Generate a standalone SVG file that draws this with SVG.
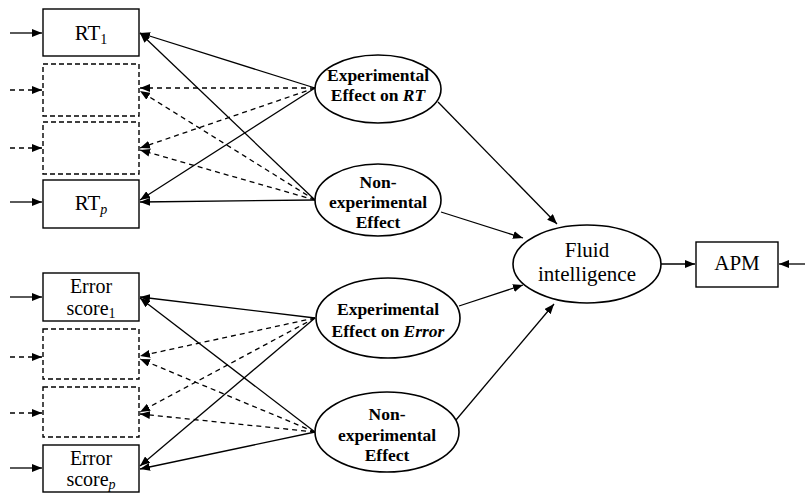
<svg xmlns="http://www.w3.org/2000/svg" width="805" height="494" viewBox="0 0 805 494">
<defs>
<marker id="ah" viewBox="0 0 10 8" refX="10" refY="4" markerWidth="10" markerHeight="8" markerUnits="userSpaceOnUse" orient="auto">
<path d="M0,0 L10,4 L0,8 z" fill="#000"/>
</marker>
</defs>
<style>
.box{fill:#fff;stroke:#000;stroke-width:1.4}
.dbox{fill:#fff;stroke:#000;stroke-width:1.4;stroke-dasharray:5,3}
.ell{fill:#fff;stroke:#000;stroke-width:1.6}
.ln{stroke:#000;stroke-width:1.3;fill:none;marker-end:url(#ah)}
.dl{stroke:#000;stroke-width:1.3;fill:none;stroke-dasharray:5,4;marker-end:url(#ah)}
.t{font-family:"Liberation Serif",serif;font-size:21px;text-anchor:middle;fill:#000}
.t2{font-family:"Liberation Serif",serif;font-size:20px;text-anchor:middle;fill:#000}
.b{font-family:"Liberation Serif",serif;font-size:17.5px;font-weight:bold;text-anchor:middle;fill:#000}
.sub{font-size:14px}
</style>
<g id="connectors">
<line class="ln" x1="10" y1="33" x2="42" y2="33"/>
<line class="dl" x1="10" y1="90" x2="42" y2="90"/>
<line class="dl" x1="10" y1="148" x2="42" y2="148"/>
<line class="ln" x1="10" y1="202" x2="42" y2="202"/>
<line class="ln" x1="10" y1="297" x2="42" y2="297"/>
<line class="dl" x1="10" y1="357" x2="42" y2="357"/>
<line class="dl" x1="10" y1="413" x2="42" y2="413"/>
<line class="ln" x1="10" y1="468" x2="42" y2="468"/>
<line class="ln" x1="315" y1="88" x2="140" y2="33"/>
<line class="dl" x1="315" y1="88" x2="140" y2="88"/>
<line class="dl" x1="315" y1="88" x2="140" y2="148"/>
<line class="ln" x1="315" y1="88" x2="140" y2="200"/>
<line class="ln" x1="315" y1="200" x2="140" y2="33"/>
<line class="dl" x1="315" y1="200" x2="140" y2="91"/>
<line class="dl" x1="315" y1="200" x2="140" y2="150"/>
<line class="ln" x1="315" y1="200" x2="140" y2="202"/>
<line class="ln" x1="315" y1="318" x2="140" y2="297"/>
<line class="dl" x1="315" y1="318" x2="140" y2="356"/>
<line class="dl" x1="315" y1="318" x2="140" y2="412"/>
<line class="ln" x1="315" y1="318" x2="140" y2="466"/>
<line class="ln" x1="315" y1="432" x2="140" y2="298"/>
<line class="dl" x1="315" y1="432" x2="140" y2="359"/>
<line class="dl" x1="315" y1="432" x2="140" y2="414"/>
<line class="ln" x1="315" y1="432" x2="140" y2="469"/>
<line class="ln" x1="438" y1="102" x2="557" y2="224"/>
<line class="ln" x1="441" y1="212" x2="523" y2="238"/>
<line class="ln" x1="459" y1="306" x2="523" y2="285"/>
<line class="ln" x1="456" y1="420" x2="554" y2="304"/>
<line class="ln" x1="661" y1="264" x2="695" y2="264"/>
<line class="ln" x1="805" y1="264" x2="779" y2="264"/>
</g>
<g id="rt1"><rect class="box" x="43" y="9" width="96" height="47"/><text class="t" x="91" y="40">RT<tspan class="sub" dy="4">1</tspan></text></g>
<g id="rt2"><rect class="dbox" x="43" y="64" width="96" height="52"/></g>
<g id="rt3"><rect class="dbox" x="43" y="122" width="96" height="52"/></g>
<g id="rtp"><rect class="box" x="43" y="180" width="96" height="48"/><text class="t" x="91" y="210">RT<tspan class="sub" dy="4" font-style="italic" font-size="18">p</tspan></text></g>
<g id="es1"><rect class="box" x="43" y="273" width="96" height="48"/><text class="t2" x="91" y="293">Error</text><text class="t2" x="91" y="315">score<tspan class="sub" dy="3">1</tspan></text></g>
<g id="es2"><rect class="dbox" x="43" y="329" width="96" height="50"/></g>
<g id="es3"><rect class="dbox" x="43" y="387" width="96" height="50"/></g>
<g id="esp"><rect class="box" x="43" y="445" width="96" height="47"/><text class="t2" x="91" y="465">Error</text><text class="t2" x="91" y="486">score<tspan class="sub" dy="3" font-style="italic" font-size="17">p</tspan></text></g>
<g id="exprt"><ellipse class="ell" cx="378" cy="89" rx="63" ry="34"/><text class="b" x="378" y="81">Experimental</text><text class="b" x="378" y="101">Effect on <tspan font-style="italic">RT</tspan></text></g>
<g id="nonrt"><ellipse class="ell" cx="378" cy="200" rx="63" ry="36"/><text class="b" x="378" y="188">Non-</text><text class="b" x="378" y="208">experimental</text><text class="b" x="378" y="228">Effect</text></g>
<g id="experr"><ellipse class="ell" cx="388" cy="318" rx="72" ry="40"/><text class="b" x="388" y="315">Experimental</text><text class="b" x="388" y="337">Effect on <tspan font-style="italic">Error</tspan></text></g>
<g id="nonerr"><ellipse class="ell" cx="387" cy="432" rx="72" ry="40"/><text class="b" x="387" y="420">Non-</text><text class="b" x="387" y="441">experimental</text><text class="b" x="387" y="461">Effect</text></g>
<g id="fluid"><ellipse class="ell" cx="587" cy="264" rx="74" ry="39"/><text class="t" x="587" y="257">Fluid</text><text class="t" x="587" y="281">intelligence</text></g>
<g id="apm"><rect class="box" x="696" y="242" width="82" height="45"/><text class="t" x="737" y="270">APM</text></g>
</svg>
